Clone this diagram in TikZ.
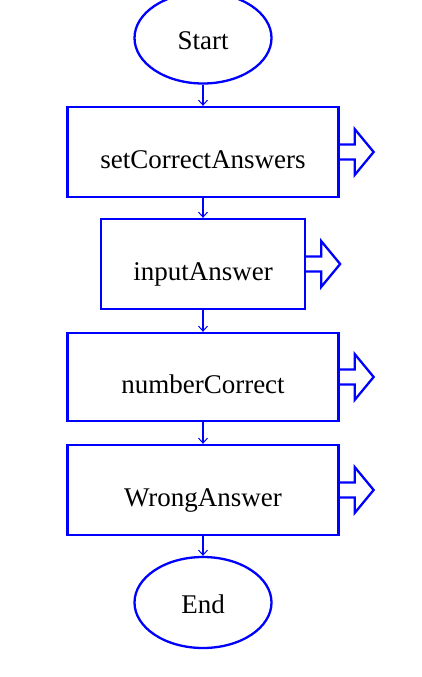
\documentclass[tikz,border=0pt]{standalone}
\usepackage{fontspec}
\setmainfont{Liberation Serif}
\usetikzlibrary{shapes.geometric,arrows.meta}
\begin{document}
\begin{tikzpicture}[x=1pt,y=-1pt,
    every node/.style={font=\fontsize{27}{30}\selectfont},
    term node/.style={ellipse,draw=blue,line width=2.3pt,minimum width=137pt,minimum height=91pt,inner sep=0pt,text height=22pt,text depth=0pt},
    proc node/.style={rectangle,draw=blue,line width=2.3pt,minimum height=90pt,inner sep=0pt,text height=32pt,text depth=0pt},
    flow/.style={draw=blue,line width=2.3pt,-{Straight Barb[length=5pt,width=9pt,line width=1pt]}},
    out arrow/.style={draw=blue,line width=2.3pt,line join=miter}]
  \useasboundingbox (0,0) rectangle (421,677);

  \node[term node] (start) at (203,38) {Start};
  \node[proc node,minimum width=271pt] (set) at (203,152) {setCorrectAnswers};
  \node[proc node,minimum width=204pt] (input) at (203,264) {inputAnswer};
  \node[proc node,minimum width=271pt,minimum height=88pt] (number) at (203,377) {numberCorrect};
  \node[proc node,minimum width=271pt] (wrong) at (203,490) {WrongAnswer};
  \node[term node] (end) at (203,602.5) {End};

  \path[flow]
    (start) edge (set)
    (set) edge (input)
    (input) edge (number)
    (number) edge (wrong)
    (wrong) edge (end)
    ;

  % hollow arrows on the right of each box
  \foreach \n in {set,input,number,wrong}
    \draw[out arrow] (\n.east) ++(0,-7.5) -- ++(15,0) -- ++(0,-15.5) -- ++(19,23) -- ++(-19,23) -- ++(0,-15.5) -- ++(-15,0);
\end{tikzpicture}
\end{document}
